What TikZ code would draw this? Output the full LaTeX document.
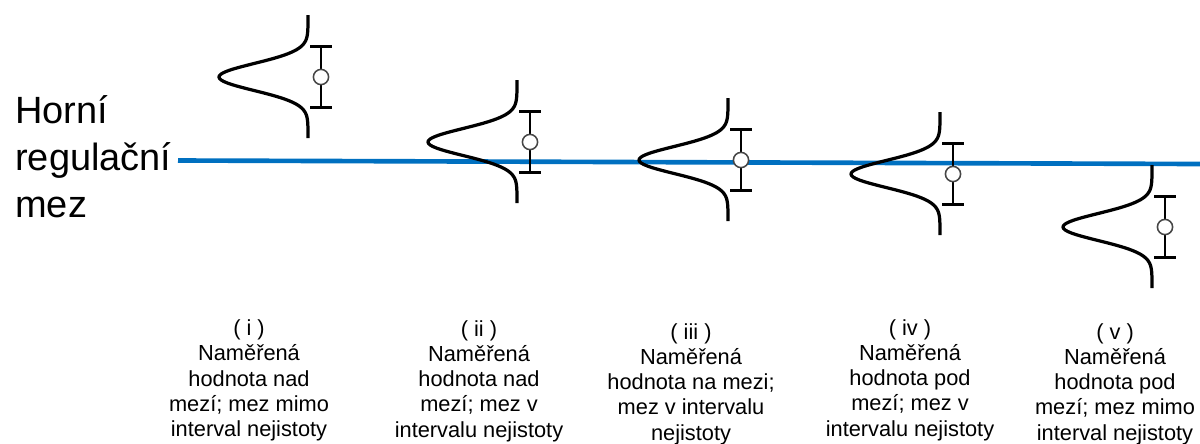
\documentclass[tikz,border=0pt]{standalone}
\usepackage{fontspec}
\setmainfont{Liberation Sans}
\usepackage{tikz}
\usetikzlibrary{positioning}
\definecolor{LimitBlue}{RGB}{0,112,192}
\definecolor{MeanGray}{RGB}{70,70,70}

\begin{document}
\begin{tikzpicture}[x=0.025cm, y=-0.025cm,
    curve/.style={line width=2.3pt, line join=round},
    errbar/.style={line width=2pt},
    mean/.style={circle, draw=MeanGray, line width=1.1pt, fill=white, minimum size=0.38cm, inner sep=0pt},
    caption/.style={align=center, inner sep=0pt, font=\fontsize{15.5}{18}\selectfont}]
  \useasboundingbox (0,0) rectangle (1200,443);
  % upper control limit
  \node[anchor=base west, align=left, inner sep=0pt, font=\fontsize{27}{33.3}\selectfont] (limtext) at (15,217) {Horní\\regulační\\mez};
  \coordinate (limstart) at (178,160.5);
  \coordinate (limend) at (1200,164);
  \draw[LimitBlue, line width=3.3pt] (limstart) -- (limend);
  % measured values with uncertainty
  \foreach \bx/\my [count=\i] in {321/77, 530/142, 741/160, 953/174, 1165/227}{
    \draw[curve] plot[domain=-62:61, samples=90, smooth] ({\bx-13-89*exp(-(\x)^2/364)}, {\my+\x});
    \coordinate (top\i) at (\bx,\my-30.5);
    \coordinate (bot\i) at (\bx,\my+30.5);
    \draw[errbar] (top\i) -- (bot\i);
    \draw[errbar] (\bx-11,\my-30.5) -- (\bx+11,\my-30.5);
    \draw[errbar] (\bx-11,\my+30.5) -- (\bx+11,\my+30.5);
    \node[mean] (m\i) at (\bx,\my) {};
  }
  % captions
  \node[caption] (cap1) at (249,380.5) {( i )\\Naměřená\\hodnota nad\\mezí; mez mimo\\interval nejistoty};
  \node[caption] (cap2) at (479,381) {( ii )\\Naměřená\\hodnota nad\\mezí; mez v\\intervalu nejistoty};
  \node[caption] (cap3) at (691,384) {( iii )\\Naměřená\\hodnota na mezi;\\mez v intervalu\\nejistoty};
  \node[caption] (cap4) at (910,380) {( iv )\\Naměřená\\hodnota pod\\mezí; mez v\\intervalu nejistoty};
  \node[caption] (cap5) at (1115,384) {( v )\\Naměřená\\hodnota pod\\mezí; mez mimo\\interval nejistoty};
\end{tikzpicture}
\end{document}
